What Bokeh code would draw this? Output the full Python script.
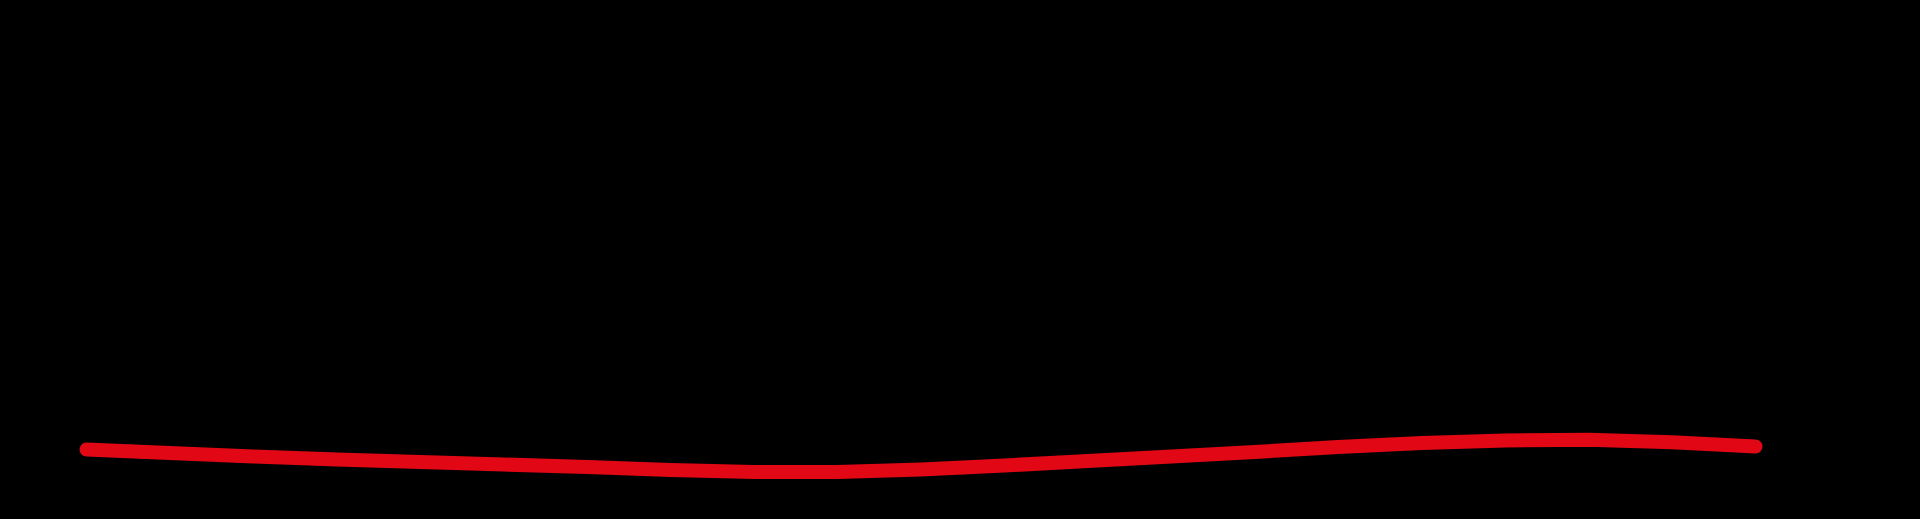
from bokeh.plotting import figure
from bokeh.models import Range1d
from bokeh.embed import file_html
from bokeh.resources import INLINE

# values (arbitrary units, higher = higher on screen)
x_idx = list(range(21))
values = [51, 47.5, 44, 41, 38.5, 36, 33.5, 30.5, 28.5, 28.5, 31,
          35, 39.5, 44, 48.5, 53.5, 57.5, 60, 60.8, 58.3, 54]

p = figure(width=1904, height=503, output_backend="svg", toolbar_location=None,
           x_range=Range1d(-1.0306, 21.785), y_range=Range1d(-3, 500),
           min_border=0, background_fill_color="black", border_fill_color="black")
p.outline_line_color = None
p.xaxis.visible = False
p.yaxis.visible = False
p.xgrid.visible = False
p.ygrid.visible = False

p.line(x_idx, values, line_color="#e20714", line_width=14, line_cap="round", line_join="round")

html = file_html(p, INLINE)
html = html.replace("</head>", "<style>html,body{background:#000;}</style></head>", 1)
open("out.html", "w").write(html)
